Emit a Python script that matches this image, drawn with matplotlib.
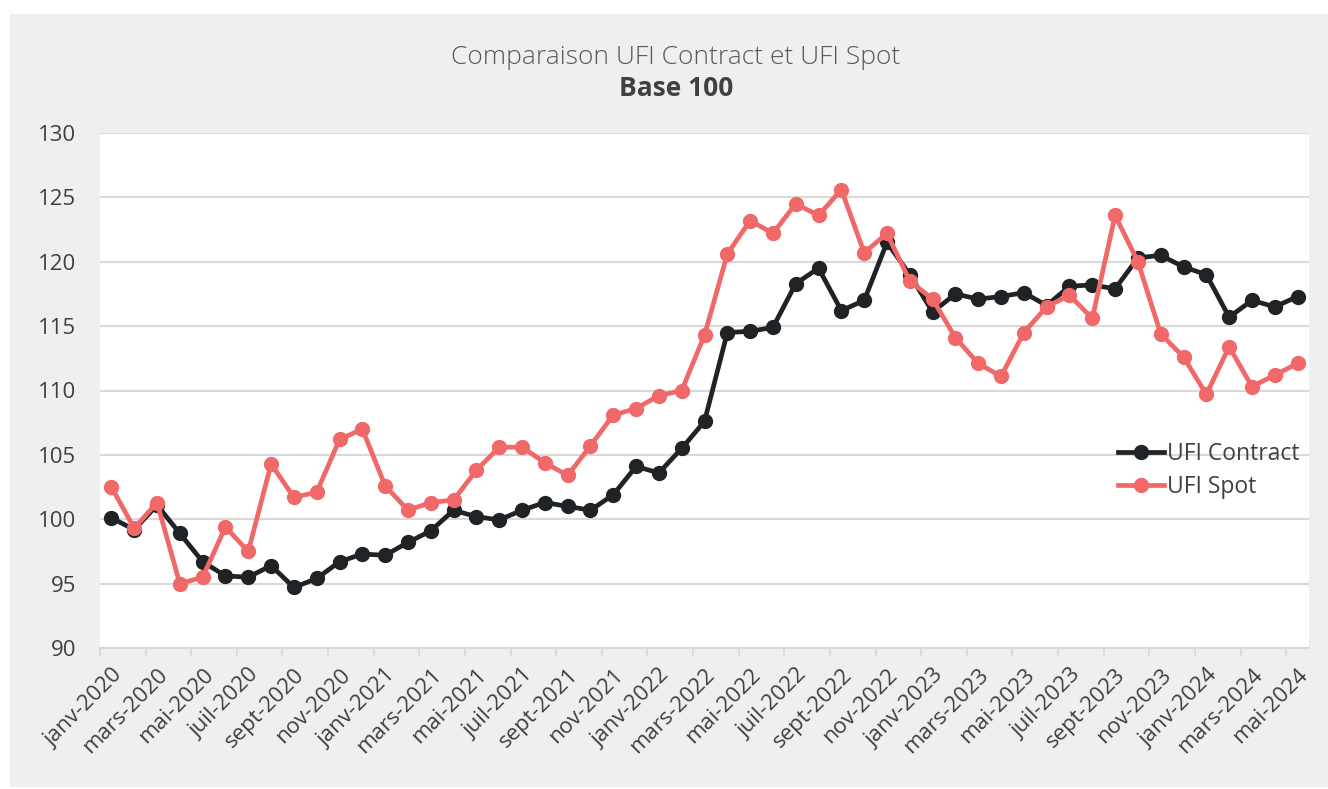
import numpy as np
import matplotlib.pyplot as plt
from matplotlib.patches import Rectangle

plt.rcParams['font.family'] = ['Open Sans', 'DejaVu Sans']

# monthly data, janv-2020 .. mai-2024
mois = ['janv', 'févr', 'mars', 'avr', 'mai', 'juin',
        'juil', 'août', 'sept', 'oct', 'nov', 'déc']
dates = [f'{m}-{y}' for y in range(2020, 2025) for m in mois][:53]

ufi_contract = [100.1, 99.2, 101.1, 98.9, 96.7, 95.6, 95.5, 96.4, 94.7, 95.4,
                96.7, 97.3, 97.2, 98.2, 99.1, 100.7, 100.2, 99.95, 100.7, 101.3,
                101.0, 100.7, 101.9, 104.1, 103.6, 105.5, 107.6, 114.5, 114.6, 114.9,
                118.3, 119.5, 116.2, 117.0, 121.5, 119.0, 116.1, 117.5, 117.1, 117.3,
                117.6, 116.6, 118.1, 118.2, 117.9, 120.3, 120.5, 119.6, 119.0, 115.7,
                117.0, 116.5, 117.3]
ufi_spot = [102.5, 99.3, 101.3, 95.0, 95.5, 99.4, 97.5, 104.3, 101.7, 102.1,
            106.2, 107.0, 102.6, 100.7, 101.3, 101.5, 103.8, 105.6, 105.6, 104.4,
            103.4, 105.7, 108.1, 108.6, 109.6, 110.0, 114.3, 120.6, 123.2, 122.2,
            124.5, 123.6, 125.6, 120.7, 122.2, 118.5, 117.1, 114.1, 112.1, 111.1,
            114.5, 116.5, 117.4, 115.6, 123.6, 120.0, 114.4, 112.6, 109.7, 113.4,
            110.3, 111.2, 112.1]

bg = '#EEEFEF'
grid_c = '#D9D9D9'
txt_c = '#404040'

fig = plt.figure(figsize=(13.28, 7.89), dpi=100, facecolor='white')
fig.patches.append(Rectangle((10 / 1328, 0.002), 1 - 10 / 1328, 1 - 14 / 789 - 0.002,
                             transform=fig.transFigure, facecolor=bg,
                             edgecolor='none', zorder=-10))

ax = fig.add_axes([100 / 1328, 1 - 648 / 789, 1209 / 1328, 515 / 789])
ax.set_facecolor('white')

x = np.arange(len(dates))
ax.plot(x, ufi_contract, color='#1F2326', lw=3.4, marker='o', ms=10,
        label='UFI Contract', zorder=3)
ax.plot(x, ufi_spot, color='#F06868', lw=3.4, marker='o', ms=10,
        label='UFI Spot', zorder=4)

ax.set_xlim(-0.5, len(dates) - 0.5)
ax.set_ylim(90, 130)
ax.set_yticks(np.arange(90, 131, 5))
ax.yaxis.grid(True, color=grid_c, lw=1.5)
ax.set_axisbelow(True)

for s in ['top', 'right', 'left']:
    ax.spines[s].set_visible(False)
ax.spines['bottom'].set_color(grid_c)
ax.spines['bottom'].set_linewidth(1.5)

ax.set_xticks(np.arange(-0.5, len(dates) - 1, 2), minor=True)
ax.set_xticks(x[::2])
ax.set_xticklabels(dates[::2], rotation=45, ha='right', rotation_mode='anchor')
ax.tick_params(axis='x', which='major', length=0, pad=12, labelsize=16,
               labelcolor=txt_c)
ax.tick_params(axis='x', which='minor', length=6, width=1.5, color=grid_c)
ax.tick_params(axis='y', length=0, pad=17, labelsize=16, labelcolor=txt_c)

fig.text(676 / 1328, 1 - 58 / 789, 'Comparaison UFI Contract et UFI Spot', ha='center',
         va='center', fontsize=19, fontweight='light', color='#595959')
fig.text(676 / 1328, 1 - 88 / 789, 'Base 100', ha='center', va='center', fontsize=19,
         fontweight='bold', color=txt_c)

ax.legend(loc='center right', bbox_to_anchor=(1.0, 0.345), frameon=False,
          fontsize=16.5, labelcolor=txt_c, handlelength=2.0, handletextpad=0.15,
          borderaxespad=0, labelspacing=0.4)

fig.savefig('out.png', dpi=100, facecolor=fig.get_facecolor())
